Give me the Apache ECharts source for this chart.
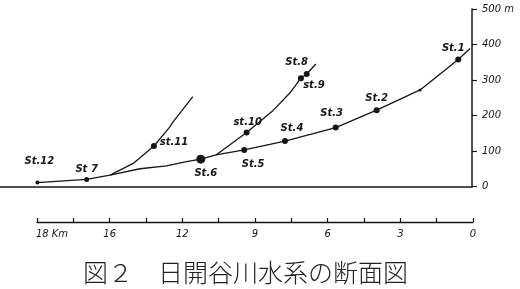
<!DOCTYPE html>
<html>
<head>
<meta charset="utf-8">
<script src="https://cdn.jsdelivr.net/npm/echarts@6/dist/echarts.min.js"></script>
<style>html,body{margin:0;padding:0;background:#fff}#c{width:520px;height:289px}</style>
</head>
<body>
<div id="c"></div>
<script>
// ---- data (distance from mouth in km, elevation in m) ----
const mainKm    = [18.01, 15.97, 15.0, 13.76, 12.66, 11.83, 11.24, 10.61, 9.44, 7.75, 5.65, 3.95, 2.15, 0.57, 0.08];
const mainElev  = [11, 20, 32, 50, 58, 70, 77, 89, 103, 128, 166, 215, 272, 358, 389];
const mainNames = ['St.12', 'St 7', null, null, null, null, 'St.6', null, 'St.5', 'St.4', 'St.3', 'St.2', '', 'St.1', null];

const br11Km    = [15.0, 14.04, 13.18, 12.52, 12.38, 11.57];
const br11Elev  = [32, 65, 114, 168, 183, 253];
const br11Names = [null, null, 'st.11', null, null, null];

const br10Km    = [10.61, 9.34, 8.23, 7.54, 7.09, 6.85, 6.47];
const br10Elev  = [89, 152, 215, 264, 305, 317, 345];
const br10Names = [null, 'st.10', null, null, 'st.9', 'St.8', null];

const elevTicks      = [0, 100, 200, 300, 400, 500];
const elevTickLabels = ['0', '100', '200', '300', '400', '500 m'];
const kmTicks        = [0, 3, 6, 9, 12, 15, 18];
const kmTickLabels   = ['0', '3', '6', '9', '12', '16', '18 Km'];
const titleText      = '図２　日開谷川水系の断面図';

// ---- styles ----
const ink = '#161616';
const labelOffsets = {
  'St.12': [2, -21], 'St 7': [0, -10], 'st.11': [20, -4], 'St.6': [5, 14],
  'st.10': [1, -10], 'St.5': [9, 14], 'St.8': [-10, -12], 'st.9': [13, 7],
  'St.4': [7, -13], 'St.3': [-4, -14], 'St.2': [0, -12], 'St.1': [-5, -11]
};
const dotSizes = { 'St.6': 9, 'St.12': 4, 'St 7': 5, '': 3 };

function buildData(kms, elevs, names) {
  return kms.map((k, i) => {
    const n = names[i];
    const item = { value: [k, elevs[i]] };
    if (n === null) {
      item.symbol = 'none';
      item.label = { show: false };
    } else {
      item.symbol = 'circle';
      item.symbolSize = dotSizes[n] || 6;
      item.label = n === '' ? { show: false } : {
        show: true, position: 'inside', formatter: n,
        offset: labelOffsets[n] || [0, -10]
      };
    }
    return item;
  });
}

function lineSeries(kms, elevs, names) {
  return {
    type: 'line', xAxisIndex: 0, yAxisIndex: 0,
    data: buildData(kms, elevs, names),
    lineStyle: { color: ink, width: 1.3 },
    itemStyle: { color: ink },
    label: { color: ink, fontSize: 10, fontStyle: 'italic', fontWeight: 'bold', fontFamily: 'DejaVu Sans' },
    emphasis: { disabled: true },
    z: 3
  };
}

const chart = echarts.init(document.getElementById('c'), null, { renderer: 'canvas' });
chart.setOption({
  animation: false,
  backgroundColor: '#fff',
  title: {
    text: titleText, left: 78, top: 255,
    textStyle: { fontFamily: 'Noto Sans CJK JP', fontSize: 25, fontWeight: 300, color: '#222' }
  },
  grid: [
    { left: 0, right: 48, top: 9, bottom: 102.5 },
    { left: 37, right: 47, top: 200, bottom: 67 }
  ],
  xAxis: [
    { type: 'value', gridIndex: 0, min: 0, max: 19.56, inverse: true,
      axisLine: { show: true, onZero: false, lineStyle: { color: ink, width: 1.5 } },
      axisTick: { show: false }, axisLabel: { show: false }, splitLine: { show: false } },
    { type: 'value', gridIndex: 1, min: 0, max: 18, interval: 1.5, inverse: true,
      axisLine: { show: true, lineStyle: { color: ink, width: 1.3 } },
      axisTick: { show: true, inside: true, length: 4, lineStyle: { color: ink, width: 1.2 } },
      axisLabel: {
        show: true, margin: 7, color: ink, fontSize: 10, fontStyle: 'italic', fontFamily: 'DejaVu Sans',
        showMinLabel: true, showMaxLabel: true,
        formatter: v => {
          const i = kmTicks.findIndex(t => Math.abs(t - v) < 1e-6);
          if (i < 0) return '';
          return i === kmTicks.length - 1 ? '{k|' + kmTickLabels[i] + '}' : kmTickLabels[i];
        },
        rich: { k: { padding: [0, 0, 0, 30], fontSize: 10, fontStyle: 'italic', fontFamily: 'DejaVu Sans', color: ink } }
      },
      splitLine: { show: false } }
  ],
  yAxis: [
    { type: 'value', gridIndex: 0, position: 'right', min: 0, max: 500, interval: 100,
      axisLine: { show: true, lineStyle: { color: ink, width: 1.5 } },
      axisTick: { show: true, inside: false, length: 5, lineStyle: { color: ink, width: 1.2 } },
      axisLabel: {
        show: true, margin: 10, color: ink, fontSize: 10, fontStyle: 'italic', fontFamily: 'DejaVu Sans',
        formatter: v => { const i = elevTicks.indexOf(v); return i < 0 ? '' : elevTickLabels[i]; }
      },
      splitLine: { show: false } },
    { type: 'value', gridIndex: 1, min: 0, max: 1, show: false }
  ],
  series: [
    lineSeries(mainKm, mainElev, mainNames),
    lineSeries(br11Km, br11Elev, br11Names),
    lineSeries(br10Km, br10Elev, br10Names),
    { type: 'line', xAxisIndex: 1, yAxisIndex: 1, data: [], silent: true }
  ]
});
</script>
</body>
</html>
